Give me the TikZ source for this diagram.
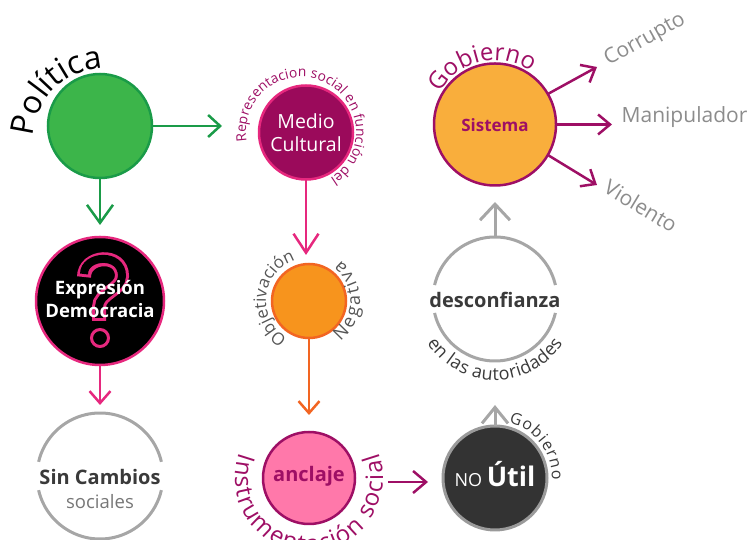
\documentclass[tikz,border=0pt]{standalone}
\usepackage{fontspec}
\setmainfont{Open Sans}
\newcommand\semi{\bfseries}
\usetikzlibrary{arrows.meta,decorations.text}
\definecolor{gfill}{HTML}{3CB54A}
\definecolor{gline}{HTML}{1A9B48}
\definecolor{pur}{HTML}{9E0F65}
\definecolor{mfill}{HTML}{9B0A5B}
\definecolor{pinkc}{HTML}{E6287E}
\definecolor{ofill}{HTML}{F7941D}
\definecolor{oline}{HTML}{F26522}
\definecolor{afill}{HTML}{FF78AA}
\definecolor{sfill}{HTML}{F9AE3C}
\definecolor{ringc}{HTML}{A6A6A6}
\definecolor{dgray}{HTML}{3A3A3A}
\definecolor{mgray}{HTML}{555555}
\definecolor{lgray}{HTML}{8C8C8C}
\definecolor{nofill}{HTML}{333333}
\definecolor{noline}{HTML}{9A9A9A}
\tikzset{
  circ/.style={circle, inner sep=0pt, outer sep=0pt, line width=2.5pt},
  conn/.style={line width=2.5pt},
  barb/.style 2 args={-{Straight Barb[length=#1pt,width=#2pt]}},
  side/.style={text=lgray, font=\fontsize{21}{21}\selectfont, inner sep=0pt},
  ringline/.style={draw=ringc, line width=3pt},
}
\begin{document}
\begin{tikzpicture}[x=1pt,y=1pt]
\useasboundingbox (0,0) rectangle (752,540);
% ---------- circles ----------
\node[circ, fill=gfill, draw=gline, minimum size=104pt] (pol) at (100,414) {};
\node[circ, fill=mfill, draw=pinkc, minimum size=94pt] (med) at (306,407.5) {};
\node[circ, fill=sfill, draw=pur, minimum size=122pt] (sis) at (495,415.5) {};
\node[circ, fill=black, draw=pinkc, minimum size=128pt] (exp) at (100,239) {};
\node[circ, fill=ofill, draw=oline, minimum size=74pt] (obj) at (309,239) {};
\node[circ, minimum size=124pt] (des) at (495,241) {};
\node[circ, minimum size=126pt] (sin) at (100,64) {};
\node[circ, fill=afill, draw=pur, minimum size=92pt] (anc) at (309,62) {};
\node[circ, fill=nofill, draw=noline, line width=3pt, minimum size=104pt] (no) at (495,62) {};
% question mark in Expresion circle
\draw[pinkc, line width=14pt, shorten <=-3pt, shorten >=-3pt] (84,266) .. controls (84,285) and (122,288) .. (122,264) .. controls (122,250) and (99,247) .. (99,233) -- (99,222);
\draw[black, line width=8pt] (84,266) .. controls (84,285) and (122,288) .. (122,264) .. controls (122,250) and (99,247) .. (99,233) -- (99,222);
\draw[pinkc, line width=3pt, fill=black] (100,202) circle[radius=8.5];
% gray rings
\draw[ringline] (des.13) arc[start angle=13, end angle=167, radius=62];
\draw[ringline] (des.193) arc[start angle=193, end angle=347, radius=62];
\draw[ringline] (sin.13) arc[start angle=13, end angle=167, radius=63];
\draw[ringline] (sin.193) arc[start angle=193, end angle=347, radius=63];
% ---------- texts in circles ----------
\node[text=white, font=\fontsize{19.5}{23}\selectfont, align=center] (medt) at (med) {Medio\\Cultural};
\node[text=pur, font=\semi\fontsize{17}{17}\selectfont] (sist) at (495,415) {Sistema};
\node[text=white, font=\semi\fontsize{18.5}{23}\selectfont, align=center] (expt) at (100,241) {Expresión\\Democracia};
\node[text=dgray, font=\semi\fontsize{20}{20}\selectfont] (dest) at (495,240) {desconfianza};
\node[text=dgray, font=\semi\fontsize{20}{20}\selectfont, anchor=base] (sint) at (100,55) {Sin Cambios};
\node[text=lgray!85!black, font=\fontsize{18.5}{18.5}\selectfont, anchor=base] (sinb) at (100,31) {sociales};
\node[text=pur, font=\semi\fontsize{20}{20}\selectfont] (anct) at (309,64) {anclaje};
\node[text=white, anchor=base] (not) at (495,53) {\fontsize{18}{18}\selectfont NO {\semi\fontsize{27}{27}\selectfont Útil}};
% ---------- side labels ----------
\node[side, rotate=29] (corr) at (645,500) {Corrupto};
\node[side] (mani) at (684.5,423) {Manipulador};
\node[side, rotate=-31] (viol) at (641,334) {Violento};
% ---------- connectors ----------
\coordinate (g1) at (222,414);
\coordinate (g2) at (100,315);
\coordinate (p1) at (306,285);
\coordinate (o1) at (309,125);
\coordinate (p2) at (100,135);
\coordinate (a1) at (388,58);
\coordinate (a2) at (428,58);
\coordinate (n1) at (495,135);
\coordinate (d1) at (495,338);
\coordinate (c1) at (597,473);
\coordinate (m1) at (612,415.5);
\coordinate (v1) at (597,355);
\draw[conn, gline, barb={12}{22}] (pol.east) -- (g1);
\draw[conn, gline, barb={18}{26}] (pol.south) -- (g2);
\draw[conn, pinkc, barb={19}{25}] (med.south) -- (p1);
\draw[conn, oline, barb={12}{21}] (obj.south) -- (o1);
\draw[conn, pinkc, barb={12}{21}] (exp.south) -- (p2);
\draw[conn, pur, barb={13}{22}] (a1) -- (a2);
\draw[conn, ringc, line width=3pt, barb={16}{26}] (no.north) -- (n1);
\draw[conn, ringc, line width=3pt, barb={16}{30}] (des.north) -- (d1);
\draw[conn, pur, barb={12}{20}] (sis.30) -- (c1);
\draw[conn, pur, barb={12}{20}] (sis.east) -- (m1);
\draw[conn, pur, barb={12}{20}] (sis.-30) -- (v1);
% ---------- texts along arcs ----------
\path[decorate, decoration={text along path, text={|\fontsize{32}{32}\selectfont|Política}, text align={fit to path}}]
  (105,400) ++(177:72) arc[start angle=177, end angle=92, radius=72];
\path[decorate, decoration={text along path, text color=pur, text={|\fontsize{13.8}{13.8}\selectfont|Representacion social en función del}, text align={fit to path}}]
  (301,408) ++(190:55) arc[start angle=190, end angle=-58, radius=55];
\path[decorate, decoration={text along path, text color=pur, text={|\fontsize{24}{24}\selectfont|Gobierno}, text align={fit to path}}]
  (495,415.5) ++(150:64) arc[start angle=150, end angle=62, radius=64];
\path[decorate, decoration={text along path, text color=mgray, text={|\fontsize{17}{17}\selectfont|Objetivación}, text align={fit to path}}]
  (309,239) ++(240:43) arc[start angle=240, end angle=110, radius=43];
\path[decorate, decoration={text along path, text color=mgray, text={|\fontsize{18}{18}\selectfont|Negativa}, text align={fit to path}}]
  (309,239) ++(-52:51) arc[start angle=-52, end angle=52, radius=51];
\path[decorate, decoration={text along path, text color=dgray, text={|\fontsize{18}{18}\selectfont|en las autoridades}, text align={fit to path}}]
  (495,241) ++(213:81) arc[start angle=213, end angle=327, radius=81];
\path[decorate, decoration={text along path, text color=pur, text={|\fontsize{24}{24}\selectfont|Instrumentación social}, text align={fit to path}}]
  (309,62) ++(160:74) arc[start angle=160, end angle=380, radius=74];
\path[decorate, decoration={text along path, text color=dgray, text={|\fontsize{16}{16}\selectfont|Gobierno}, text align={fit to path}}]
  (495,62) ++(76:57) arc[start angle=76, end angle=-2, radius=57];
\end{tikzpicture}
\end{document}
